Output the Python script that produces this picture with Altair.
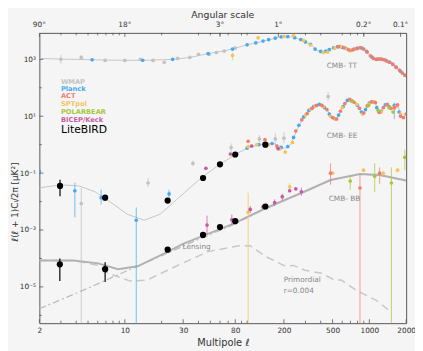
import altair as alt
import pandas as pd

# ---------------- theory curves ----------------
TT_L = [2, 3, 4, 6, 10, 15, 25, 34, 49, 67, 102, 140, 191, 230, 277, 333, 372, 424, 491, 559,
        648, 697, 770, 839, 920, 1009, 1127, 1200, 1283, 1460, 1755, 2000]
TT_D = [1080, 1020, 1000, 960, 920, 930, 1000, 1170, 1610, 2040, 3290, 4520, 6200, 6200, 4900,
        3290, 2040, 1890, 2390, 2810, 2390, 2040, 2350, 2590, 2210, 1370, 1000, 1050, 1000, 790, 420, 260]

EE_L = [2, 3, 4.2, 5.7, 7.7, 10.5, 14.4, 19.4, 26.5, 42, 60, 80, 102, 140, 168, 202, 230, 257, 293,
        333, 386, 439, 509, 538, 590, 671, 778, 885, 972, 1106, 1213, 1355, 1542, 1691, 1854, 2000]
EE_D = [0.0304, 0.0386, 0.0356, 0.0221, 0.00925, 0.00357, 0.00221, 0.00357, 0.0117, 0.0673, 0.204,
        0.452, 0.788, 1.08, 1.08, 0.727, 1.08, 3.57, 10, 18.9, 25.9, 18.9, 8.5, 7.9, 17.4, 38.5, 28,
        12.7, 25.9, 32.9, 12.7, 25.9, 17.4, 25.9, 8.5, 11.7]

BB_TOT_L = [2, 3.8, 6.05, 8.8, 12.7, 20.9, 30.2, 47.9, 76, 140, 293, 481, 838, 1213, 2000]
BB_TOT_D = [8.5e-5, 8.5e-5, 6.7e-5, 4.2e-5, 5.3e-5, 1.49e-4, 3.3e-4, 7.3e-4, 1.61e-3, 5.7e-3,
            0.0221, 0.0574, 0.0925, 0.0853, 0.055]

BB_LENS_L = [2, 5, 10, 20, 30, 48, 76, 140, 293, 481, 838, 1213, 2000]
BB_LENS_D = [1.7e-6, 9.0e-6, 3.4e-5, 1.26e-4, 2.7e-4, 6.5e-4, 1.5e-3, 5.5e-3, 0.0218, 0.0568,
             0.0918, 0.0848, 0.0545]

BB_PRIM_L = [2, 3.8, 6.05, 7.3, 11.1, 15.2, 30, 47.9, 86, 106, 142, 206, 239, 298, 408, 519, 590,
             793, 1148, 1514]
BB_PRIM_D = [8.5e-5, 8.5e-5, 5.7e-5, 3.0e-5, 1.6e-5, 1.74e-5, 7.0e-5, 1.74e-4, 2.8e-4, 2.8e-4,
             1.17e-4, 5.3e-5, 5.7e-5, 3.85e-5, 3.0e-5, 1.74e-5, 1.74e-5, 7.3e-6, 3.3e-6, 1.27e-6]

# ---------------- measurements ----------------
# WMAP
WMAP_L = [3, 4.4, 6.9, 10, 13.4, 17, 21, 27, 34, 40, 49, 56, 65, 80,
          4.4, 15.5, 36, 74, 126, 170, 200, 460]
WMAP_D = [1000, 1170, 920, 920, 1000, 920, 790, 1080, 1170, 1490, 1490, 1740, 1950, 2500,
          0.0085, 0.045, 0.22, 0.79, 1.6, 1.6, 1.7, 49]
WMAP_ERR_L = [3, 4.4, 4.4, 15.5, 36, 74, 126, 170, 200, 460]
WMAP_ERR_LO = [700, 950, 1e-9, 0.032, 0.18, 0.55, 1.2, 1.0, 1.1, 35]
WMAP_ERR_HI = [1450, 1400, 0.030, 0.068, 0.27, 1.1, 2.2, 2.6, 2.7, 70]

# Planck
PLANCK_L = [5.4, 14, 24.6, 48, 76, 100, 118, 135, 150, 170, 190, 215, 245, 275, 300, 330, 360, 400,
            440, 470, 510, 550, 600, 650, 700, 750, 800, 870, 950, 1050, 1150, 1250, 1350, 1450,
            1550, 1650, 1800, 1950,
            2, 3.9, 6.4, 12.4, 23, 100, 125, 160, 190, 215, 240, 265, 290, 320, 350, 390, 430, 470,
            520, 560, 610, 660, 720, 800, 860, 930, 1000, 1080, 1150, 1250, 1350, 1450, 1600, 1750]
PLANCK_D = [960, 930, 1000, 1600, 2300, 3250, 3800, 4400, 4950, 5600, 6200, 6300, 5800, 4950, 4100,
            3350, 2300, 1900, 1950, 2200, 2550, 2800, 2650, 2380, 2050, 2280, 2450, 2500, 1900, 1200,
            1000, 1020, 950, 810, 680, 540, 380, 280,
            0.117, 0.024, 0.0137, 0.0022, 0.0186, 0.76, 1.0, 1.1, 0.8, 0.85, 1.8, 4.8, 9.5, 16, 22,
            26, 20, 12, 8.3, 11, 22, 36, 35, 24, 14, 17, 29, 32, 20, 15, 25, 22, 24, 14]
PLANCK_ERR_L = [3.9, 6.4, 12.4, 23, 1600]
PLANCK_ERR_LO = [0.0028, 0.0079, 1e-9, 0.0137, 8]
PLANCK_ERR_HI = [0.046, 0.0262, 0.0062, 0.026, 30]

# ACT
ACT_L = [560, 620, 680, 730, 790, 840, 900, 960, 1020, 1080, 1130, 1190, 1240, 1300, 1380, 1470,
         1560, 1660, 1760, 1860, 1960,
         102, 140, 175, 250, 280, 310, 340, 370, 410, 450, 500, 540, 580, 630, 690, 750, 830, 900,
         960, 1040, 1120, 1200, 1300, 1400, 1500, 1600, 1700, 1800, 1900, 2000,
         481, 838, 1213]
ACT_D = [2800, 2550, 2150, 2150, 2450, 2580, 2300, 1800, 1320, 1080, 1000, 1040, 1010, 980, 880, 790,
         660, 520, 420, 330, 275,
         1.32, 1.5, 0.9, 3.0, 7.5, 12.5, 19, 24, 24, 17, 9, 8, 15, 28, 39, 31, 19, 13, 23, 32, 30,
         13.5, 20, 26, 19, 20, 25, 10, 9, 12,
         0.1, 0.030, 0.1]
ACT_ERR_L = [481, 838, 1213]
ACT_ERR_LO = [0.0386, 1e-9, 0.042]
ACT_ERR_HI = [0.22, 0.092, 0.16]

# SPTpol
SPT_L = [76, 123, 200, 240, 290, 330, 420, 455, 520, 580, 640, 700, 780,
         77, 102, 120, 150, 185, 205, 235, 300, 330, 360, 420, 480, 530, 600, 700, 790, 880, 1000,
         1100, 1250, 1400, 1650, 1800,
         102, 223, 500, 895, 1300, 1700]
SPT_D = [1370, 5700, 6400, 6900, 4600, 3200, 1750, 1800, 2500, 2850, 2500, 2000, 2350,
         0.41, 0.85, 1.0, 1.0, 0.7, 0.55, 1.2, 11, 18, 23, 22, 10, 8, 20, 38, 26, 12, 27, 32, 14, 25,
         22, 12,
         4.2e-3, 0.033, 0.1, 0.127, 0.1, 0.127]
SPT_ERR_L = [76, 102, 223]
SPT_ERR_LO = [920, 1e-9, 0.024]
SPT_ERR_HI = [1740, 0.0204, 0.045]

# POLARBEAR
PB_L = [720, 980, 1180, 1450, 1560, 697, 1106, 1514, 1950]
PB_D = [34, 24, 16, 20, 14, 0.053, 0.078, 0.045, 0.36]
PB_ERR_L = [697, 1106, 1514, 1950]
PB_ERR_LO = [0.026, 0.022, 1e-9, 0.127]
PB_ERR_HI = [0.085, 0.22, 0.16, 0.67]

# BICEP/Keck
BK_L = [46, 73, 109, 179, 47, 75, 106, 135, 168, 194, 223, 250, 278]
BK_D = [0.148, 0.47, 0.9, 0.73, 1.49e-3, 2.3e-3, 5.3e-3, 6.5e-3, 9.2e-3, 0.0149, 0.024, 0.028, 0.022]
BK_ERR_L = [47, 75, 106, 168, 194, 278]
BK_ERR_LO = [7e-4, 1.5e-3, 4e-3, 7e-3, 0.011, 0.016]
BK_ERR_HI = [3.2e-3, 3.5e-3, 7e-3, 0.012, 0.019, 0.031]

# LiteBIRD forecast
LB_L = [2.95, 6.9, 22.4, 43.6, 60, 80, 141, 2.94, 6.9, 22.4, 43.6, 60, 80, 141]
LB_D = [0.0356, 0.0137, 0.0108, 0.0673, 0.204, 0.452, 1.0,
        6.2e-5, 4.2e-5, 2.04e-4, 6.7e-4, 1.27e-3, 2.04e-3, 6.7e-3]
LB_ERR_L = [2.95, 6.9, 2.94, 6.9]
LB_ERR_LO = [0.0155, 0.011, 1.6e-5, 1.5e-5]
LB_ERR_HI = [0.059, 0.017, 1.0e-4, 7.4e-5]

EXPS = ["WMAP", "Planck", "ACT", "SPTpol", "POLARBEAR", "BICEP/Keck"]
COLS = ["#c2c2c2", "#45aaf2", "#f47c6c", "#f5c35a", "#a8c63a", "#c75aa5"]

TOP_L = [2, 10, 60, 180, 900, 1800]
TOP_LABELS = ["90°", "18°", "3°", "1°", "0.2°", "0.1°"]
X_MAJOR = [2, 10, 30, 80, 200, 500, 1000, 2000]
X_MINOR = [3, 4, 5, 6, 7, 8, 9, 20, 40, 50, 60, 70, 90, 100, 300, 400, 600, 700, 800, 900]
Y_MAJOR = [1e3, 1e1, 1e-1, 1e-3, 1e-5]
Y_MINOR = [1e2, 1e0, 1e-2, 1e-4, 1e-6]

# ---------------- build tables ----------------
pts = []
errs = []
for exp, Ls, Ds, eL, elo, ehi in [
    ("WMAP", WMAP_L, WMAP_D, WMAP_ERR_L, WMAP_ERR_LO, WMAP_ERR_HI),
    ("Planck", PLANCK_L, PLANCK_D, PLANCK_ERR_L, PLANCK_ERR_LO, PLANCK_ERR_HI),
    ("SPTpol", SPT_L, SPT_D, SPT_ERR_L, SPT_ERR_LO, SPT_ERR_HI),
    ("ACT", ACT_L, ACT_D, ACT_ERR_L, ACT_ERR_LO, ACT_ERR_HI),
    ("POLARBEAR", PB_L, PB_D, PB_ERR_L, PB_ERR_LO, PB_ERR_HI),
    ("BICEP/Keck", BK_L, BK_D, BK_ERR_L, BK_ERR_LO, BK_ERR_HI),
]:
    for l, d in zip(Ls, Ds):
        pts.append({"exp": exp, "L": l, "D": d})
    for l, lo, hi in zip(eL, elo, ehi):
        errs.append({"exp": exp, "L": l, "lo": lo, "hi": hi})
pts = pd.DataFrame(pts)
errs = pd.DataFrame(errs)
lb = pd.DataFrame({"L": LB_L, "D": LB_D})
lb_err = pd.DataFrame({"L": LB_ERR_L, "lo": LB_ERR_LO, "hi": LB_ERR_HI})

W, H = 374, 296
YTITLE = "ℓ(ℓ + 1)Cₗ/2π [μK²]"
FONT = "DejaVu Sans"

xscale = alt.Scale(type="log", domain=[2, 2000])
yscale = alt.Scale(type="log", domain=[5.3e-7, 8.53e3])


def X(field="L"):
    return alt.X(f"{field}:Q", scale=xscale,
                 axis=alt.Axis(values=X_MAJOR, labelExpr="format(datum.value, 'd')",
                               title="Multipole ℓ", ticks=False, grid=False, domain=False,
                               labelFontSize=7.5, titleFontSize=10, labelPadding=4,
                               labelFlush=False, labelOverlap=False, titleY=20,
                               titleBaseline="middle", labelColor="#333", titleColor="#333",
                               titleFontWeight="normal", labelFont=FONT, titleFont=FONT))


def Y(field="D"):
    return alt.Y(f"{field}:Q", scale=yscale,
                 axis=alt.Axis(values=Y_MAJOR, title=YTITLE,
                               labelExpr="datum.value > 100 ? '10³' : datum.value > 1 ? '10¹' : "
                                         "datum.value > 0.01 ? '10⁻¹' : datum.value > 0.0001 ? '10⁻³' : '10⁻⁵'",
                               ticks=False, grid=False, domain=False, labelFontSize=7.5,
                               titleFontSize=9, labelPadding=4, labelFlush=False,
                               labelOverlap=False, titleX=-25, titleY=172, titleAlign="center",
                               titleBaseline="middle", labelColor="#333", titleColor="#333",
                               titleFontWeight="normal", labelFont=FONT, titleFont=FONT))


color = alt.Color("exp:N", scale=alt.Scale(domain=EXPS, range=COLS), legend=None)


def curve(L, D, **kw):
    return alt.Chart(pd.DataFrame({"L": L, "D": D})).mark_line(clip=True, **kw).encode(x=X(), y=Y())


layers = [
    curve(TT_L, TT_D, color="#c6c6c6", strokeWidth=1),
    curve(EE_L, EE_D, color="#c6c6c6", strokeWidth=1),
    curve(BB_PRIM_L, BB_PRIM_D, color="#c8c8c8", strokeWidth=1.5, strokeDash=[8, 5]),
    curve(BB_LENS_L, BB_LENS_D, color="#bcbcbc", strokeWidth=1.3, strokeDash=[7, 3, 2, 3]),
    curve(BB_TOT_L, BB_TOT_D, color="#b2b2b2", strokeWidth=2),
    alt.Chart(errs).mark_rule(clip=True, strokeWidth=1, opacity=0.75).encode(
        x=X(), y=Y("lo"), y2="hi", color=color),
    alt.Chart(pts).mark_circle(size=14, opacity=1, clip=True).encode(x=X(), y=Y(), color=color),
    alt.Chart(lb_err).mark_rule(color="black", strokeWidth=1.2).encode(x=X(), y=Y("lo"), y2="hi"),
    alt.Chart(lb).mark_circle(size=40, color="black", opacity=1).encode(x=X(), y=Y()),
]

# annotations
ann = pd.DataFrame({
    "L": [448, 448, 465, 29.6, 199, 199],
    "D": [574, 2.04, 0.0127, 2.6e-4, 1.8e-5, 7.0e-6],
    "t": ["CMB- TT", "CMB- EE", "CMB- BB", "Lensing", "Primordial", "r=0.004"],
})
layers.append(alt.Chart(ann).mark_text(align="left", baseline="middle", fontSize=7.5,
                                       color="#888", font=FONT).encode(x=X(), y=Y(), text="t:N"))

# legend (coloured names)
for i, (name, c) in enumerate(zip(EXPS, COLS)):
    ypix = [50.5, 57.5, 64.8, 72.6, 80.5, 88.6][i]
    layers.append(alt.Chart(pd.DataFrame({"a": [0]})).mark_text(
        align="left", baseline="middle", fontSize=6.8, fontWeight="bold", color=c, font=FONT
    ).encode(x=alt.value(22), y=alt.value(ypix), text=alt.value(name)))
layers.append(alt.Chart(pd.DataFrame({"a": [0]})).mark_text(
    align="left", baseline="middle", fontSize=11, color="black", font=FONT
).encode(x=alt.value(22), y=alt.value(98.8), text=alt.value("LiteBIRD")))

# inward ticks (bottom & top) and left
tick_col = "#555"
for vals, ln in [(X_MAJOR, 4), (X_MINOR, 2.5)]:
    d = pd.DataFrame({"L": vals})
    layers.append(alt.Chart(d).mark_rule(color=tick_col, strokeWidth=0.8).encode(
        x=X(), y=alt.value(H), y2=alt.value(H - ln)))
for vals, ln in [(TOP_L, 4), (X_MINOR, 2.5)]:
    d = pd.DataFrame({"L": vals})
    layers.append(alt.Chart(d).mark_rule(color=tick_col, strokeWidth=0.8).encode(
        x=X(), y=alt.value(0), y2=alt.value(ln)))
for vals, ln in [(Y_MAJOR, 4), (Y_MINOR, 2.5)]:
    d = pd.DataFrame({"D": vals})
    layers.append(alt.Chart(d).mark_rule(color=tick_col, strokeWidth=0.8).encode(
        y=Y(), x=alt.value(0), x2=alt.value(ln)))

# top angular axis labels
top = pd.DataFrame({"L": TOP_L, "t": TOP_LABELS})
layers.append(alt.Chart(top).mark_text(baseline="middle", fontSize=7.5, color="#333", font=FONT)
              .encode(x=X(), y=alt.value(-8), text="t:N"))
layers.append(alt.Chart(pd.DataFrame({"a": [0]})).mark_text(
    baseline="middle", fontSize=9.5, color="#333", font=FONT
).encode(x=alt.value(W / 2), y=alt.value(-18), text=alt.value("Angular scale")))

chart = alt.layer(*layers).properties(
    width=W, height=H, autosize="none",
    padding={"left": 32, "top": 22, "right": 9, "bottom": 25},
).configure(background="#f5f5f5").configure_view(stroke="#555", strokeWidth=1, fill="#f5f5f5")

chart.save("out.html", embed_options={"renderer": "svg", "actions": False})
